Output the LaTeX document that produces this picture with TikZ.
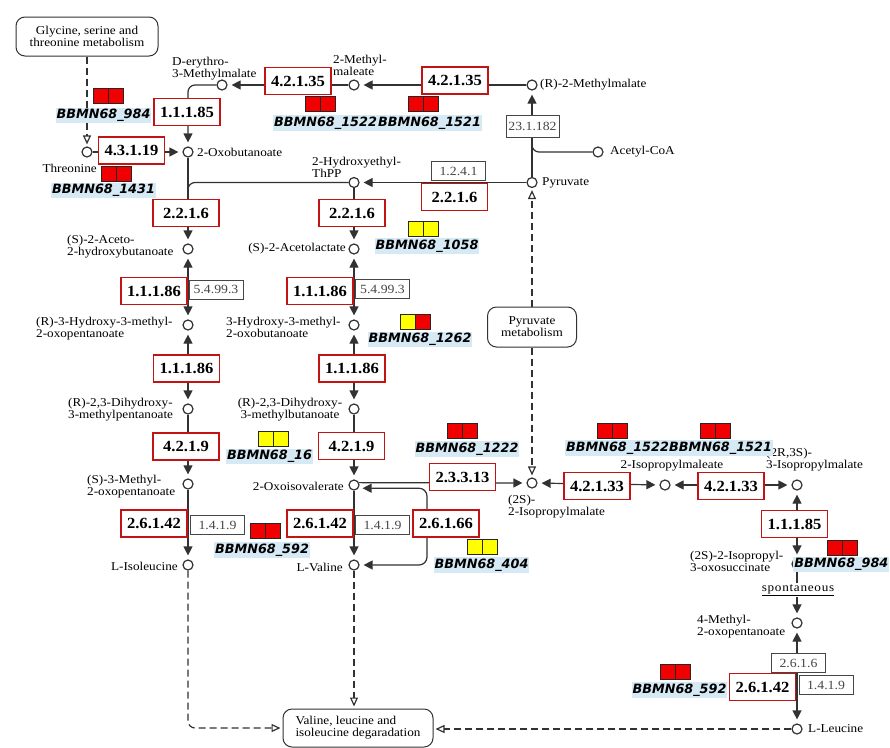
\documentclass[tikz,border=0pt]{standalone}
\usepackage{fontspec}
\setmainfont{Liberation Serif}
\newfontfamily\cpdf[FakeStretch=1.1]{Liberation Serif}
\newfontfamily\spf[FakeStretch=1.1,LetterSpace=6]{Liberation Serif}
\newfontfamily\ecff[FakeStretch=1.07]{Liberation Serif}
\newfontfamily\genf{DejaVu Sans}
\usetikzlibrary{arrows.meta,calc}
\definecolor{lc}{RGB}{50,50,50}
\definecolor{ecred}{RGB}{195,20,20}
\definecolor{sqred}{RGB}{240,0,0}
\definecolor{sqyel}{RGB}{255,255,0}
\definecolor{genebg}{RGB}{214,234,245}
\definecolor{grayec}{RGB}{70,70,70}
\pgfdeclarelayer{bg}
\pgfsetlayers{bg,main}
\newcommand\sqpair[5]{\node[#4] (#1a) at ({#2-7.5},{-#3}) {};\node[#5] (#1b) at ({#2+7.5},{-#3}) {};}
\tikzset{
  cpd/.style={circle,draw=lc,fill=white,line width=1.2pt,minimum size=10pt,inner sep=0pt},
  ecbox/.style={draw=ecred,line width=1.8pt,fill=white,minimum width=66pt,minimum height=27pt,inner sep=0pt,font=\ecff\fontsize{15.5}{15.5}\selectfont\bfseries},
  ecgray/.style={draw=grayec,line width=1pt,fill=white,minimum width=54pt,minimum height=19pt,inner sep=0pt,text=grayec,font=\cpdf\fontsize{12.5}{12.5}\selectfont},
  lbl/.style={inner sep=0pt,font=\cpdf\fontsize{12}{12}\selectfont,text=black},
  lbll/.style={lbl,align=left,anchor=north west},
  gene/.style={fill=genebg,inner xsep=1pt,inner ysep=1.5pt,font=\genf\fontsize{12.8}{12.8}\selectfont\bfseries\itshape},
  sqr/.style={draw=black!85,line width=1pt,fill=sqred,minimum size=15pt,inner sep=0pt},
  sqy/.style={sqr,fill=sqyel},
  mapbox/.style={draw=lc,line width=1pt,rounded corners=9pt,fill=white,align=center,inner sep=0pt,font=\cpdf\fontsize{12}{12}\selectfont},
  ln/.style={draw=lc,line width=1.2pt},
  arr/.style={ln,-{Triangle[length=9pt,width=9pt]},shorten >=4pt},
  arrb/.style={ln,{Triangle[length=9pt,width=9pt]}-{Triangle[length=9pt,width=9pt]},shorten >=4pt,shorten <=4pt},
  darr/.style={ln,dash pattern=on 7pt off 4pt,-{Triangle[open,length=9pt,width=8pt,fill=white]},shorten >=2pt},
}
\begin{document}
\begin{tikzpicture}[x=1pt,y=1pt]
\useasboundingbox (0,0) rectangle (890,-747);
% ---------- compounds
\node[cpd] (c_dery) at (222,-85) {};
\node[cpd] (c_mmal) at (354,-85) {};
\node[cpd] (c_rmm) at (532,-85) {};
\node[cpd] (c_acoa) at (598,-152) {};
\node[cpd] (c_pyr) at (532,-182.5) {};
\node[cpd] (c_hthpp) at (354,-182.5) {};
\node[cpd] (c_oxob) at (188,-152) {};
\node[cpd] (c_thr) at (87,-152) {};
\node[cpd] (c_ahb) at (188,-249) {};
\node[cpd] (c_al) at (354,-249) {};
\node[cpd] (c_hmo) at (188,-325) {};
\node[cpd] (c_hmob) at (354,-325) {};
\node[cpd] (c_dhmp) at (188,-409) {};
\node[cpd] (c_dhmb) at (354,-409) {};
\node[cpd] (c_mop) at (188,-484) {};
\node[cpd] (c_oiv) at (354,-485) {};
\node[cpd] (c_ile) at (188,-565) {};
\node[cpd] (c_val) at (354,-565) {};
\node[cpd] (c_ipm) at (532,-483) {};
\node[cpd] (c_ipmal) at (665,-485) {};
\node[cpd] (c_ripm) at (797,-485) {};
\node[cpd] (c_ipos) at (797,-564) {};
\node[cpd] (c_mop4) at (797,-623) {};
\node[cpd] (c_leu) at (797,-729) {};
% ---------- maps
\node[mapbox,minimum width=142pt,minimum height=39pt] (glymap) at (87,-36.5) {Glycine, serine and\\threonine metabolism};
\node[mapbox,minimum width=89pt,minimum height=40pt] (pyrmap) at (532,-327) {Pyruvate\\metabolism};
\node[mapbox,minimum width=150pt,minimum height=38pt,align=left] (valmap) at (358,-728) {Valine, leucine and\\isoleucine degaradation};
% ---------- enzymes
\node[ecbox] (e1) at (187,-112) {1.1.1.85};
\node[ecbox] (e2) at (131.5,-150.5) {4.3.1.19};
\node[ecbox] (e3) at (298,-81) {4.2.1.35};
\node[ecbox] (e4) at (455,-80.5) {4.2.1.35};
\node[ecgray,minimum width=53pt,minimum height=22pt] (e5) at (532.5,-126) {23.1.182};
\node[ecgray] (e6) at (458.5,-171) {1.2.4.1};
\node[ecbox] (e7) at (454.5,-197) {2.2.1.6};
\node[ecbox] (e8) at (186,-213) {2.2.1.6};
\node[ecbox] (e9) at (352,-213) {2.2.1.6};
\node[ecbox] (e10) at (154,-291) {1.1.1.86};
\node[ecgray] (e11) at (216,-289.5) {5.4.99.3};
\node[ecbox] (e12) at (320,-291) {1.1.1.86};
\node[ecgray] (e13) at (382.5,-289) {5.4.99.3};
\node[ecbox] (e14) at (186.5,-368.5) {1.1.1.86};
\node[ecbox] (e15) at (352,-368.5) {1.1.1.86};
\node[ecbox] (e16) at (186,-446.5) {4.2.1.9};
\node[ecbox] (e17) at (351.5,-446) {4.2.1.9};
\node[ecbox] (e18) at (462.5,-477) {2.3.3.13};
\node[ecbox] (e19) at (154,-523.5) {2.6.1.42};
\node[ecgray] (e20) at (217.5,-525) {1.4.1.9};
\node[ecbox] (e21) at (320,-523.5) {2.6.1.42};
\node[ecgray] (e22) at (382.5,-525) {1.4.1.9};
\node[ecbox] (e23) at (446,-523.5) {2.6.1.66};
\node[ecbox] (e24) at (597,-486) {4.2.1.33};
\node[ecbox] (e25) at (731,-486) {4.2.1.33};
\node[ecbox] (e26) at (794.5,-524) {1.1.1.85};
\node[ecgray] (e27) at (798.5,-663) {2.6.1.6};
\node[ecbox] (e28) at (762.5,-687) {2.6.1.42};
\node[ecgray] (e29) at (826,-685) {1.4.1.9};
% ---------- compound labels
\node[lbll] (lb_dery) at (172,-57) {D-erythro-\\3-Methylmalate};
\node[lbll] (lb_mmal) at (333,-55) {2-Methyl-\\maleate};
\node[lbl,anchor=west] (lb_rmm) at (540,-85) {(R)-2-Methylmalate};
\node[lbl,anchor=west] (lb_acoa) at (610,-152) {Acetyl-CoA};
\node[lbll] (lb_hthpp) at (312,-157) {2-Hydroxyethyl-\\ThPP};
\node[lbl,anchor=west] (lb_pyr) at (542,-183) {Pyruvate};
\node[lbl,anchor=west] (lb_oxob) at (197,-152) {2-Oxobutanoate};
\node[lbl,anchor=east] (lb_thr) at (97,-168) {Threonine};
\node[lbll] (lb_ahb) at (67,-235) {(S)-2-Aceto-\\2-hydroxybutanoate};
\node[lbl,anchor=east] (lb_al) at (346,-249) {(S)-2-Acetolactate};
\node[lbll] (lb_hmo) at (36,-317) {(R)-3-Hydroxy-3-methyl-\\2-oxopentanoate};
\node[lbll] (lb_hmob) at (226,-317) {3-Hydroxy-3-methyl-\\2-oxobutanoate};
\node[lbll] (lb_dhmp) at (68,-398) {(R)-2,3-Dihydroxy-\\3-methylpentanoate};
\node[lbl,align=center,anchor=north] (lb_dhmb) at (290,-398) {(R)-2,3-Dihydroxy-\\3-methylbutanoate};
\node[lbll] (lb_mop) at (87,-475) {(S)-3-Methyl-\\2-oxopentanoate};
\node[lbl,anchor=east] (lb_oiv) at (344,-486) {2-Oxoisovalerate};
\node[lbl,anchor=east] (lb_ile) at (178,-566) {L-Isoleucine};
\node[lbl,anchor=east] (lb_val) at (343,-567) {L-Valine};
\node[lbll] (lb_ipm) at (508,-495) {(2S)-\\2-Isopropylmalate};
\node[lbl] (lb_ipmal) at (672,-466) {2-Isopropylmaleate};
\node[lbll] (lb_ripm) at (766,-448) {(2R,3S)-\\3-Isopropylmalate};
\node[lbll] (lb_ipos) at (690,-551) {(2S)-2-Isopropyl-\\3-oxosuccinate};
\node[lbl,fill=white,inner sep=1pt,font=\spf\fontsize{12}{12}\selectfont] (lb_spont) at (798,-590) {\underline{spontaneous}};
\node[lbll] (lb_mop4) at (697,-615) {4-Methyl-\\2-oxopentanoate};
\node[lbl,anchor=west] (lb_leu) at (808,-729) {L-Leucine};
% ---------- connectors
\begin{pgfonlayer}{bg}
\fill[white] (0,0) rectangle (890,-747);
\coordinate (j1) at (188,-205);
\coordinate (j2) at (532,-140);
\coordinate (lp) at (427,-565);
\draw[arr] (c_rmm) -- (c_mmal);
\draw[arr] (c_mmal) -- (c_dery);
\draw[arr,rounded corners=7pt] (c_dery.west) -| (c_oxob.north);
\draw[arr] (c_thr) -- (c_oxob);
\draw[darr] (glymap) -- (c_thr);
\draw[arr] (c_pyr) -- (c_rmm);
\draw[ln,rounded corners=7pt] (c_acoa.west) -| (j2);
\draw[arr] (c_pyr) -- (c_hthpp);
\draw[ln,rounded corners=7pt] (c_hthpp.west) -| (j1);
\draw[darr] (pyrmap) -- (c_pyr);
\draw[darr] (pyrmap) -- (c_ipm);
\draw[arr] (c_oxob) -- (c_ahb);
\draw[arr] (c_hthpp) -- (c_al);
\draw[arrb] (c_ahb) -- (c_hmo);
\draw[arrb] (c_al) -- (c_hmob);
\draw[arrb] (c_hmo) -- (c_dhmp);
\draw[arrb] (c_hmob) -- (c_dhmb);
\draw[arr] (c_dhmp) -- (c_mop);
\draw[arr] (c_dhmb) -- (c_oiv);
\draw[arr] (c_mop) -- (c_ile);
\draw[arr] (c_oiv) -- (c_val);
\draw[arrb,rounded corners=8pt] (c_oiv.-35) -| (lp) -- (c_val.east);
\draw[arr] (c_oiv.25) -- (c_ipm);
\draw[arrb] (c_ipm) -- (c_ipmal);
\draw[arrb] (c_ipmal) -- (c_ripm);
\draw[arrb] (c_ripm) -- (c_ipos);
\draw[arr] (c_ipos) -- (c_mop4);
\draw[arrb] (c_mop4) -- (c_leu);
\draw[darr,rounded corners=7pt] (c_ile.south) |- (valmap.west);
\draw[darr] (c_val) -- (c_val |- valmap.north);
\draw[darr] (c_leu) -- (c_leu -| valmap.east);
\end{pgfonlayer}
% ---------- genes
\sqpair{s1}{108}{95.5}{sqr}{sqr}
\node[gene] (g1) at (103.5,-115.5) {BBMN68\_984};
\sqpair{s2}{116}{174}{sqr}{sqr}
\node[gene] (g2) at (103.5,-190.5) {BBMN68\_1431};
\sqpair{s3}{320}{104}{sqr}{sqr}
\node[gene] (g3) at (325.5,-123) {BBMN68\_1522};
\sqpair{s4}{423}{104}{sqr}{sqr}
\node[gene] (g4) at (429.5,-123) {BBMN68\_1521};
\sqpair{s5}{423}{228.5}{sqy}{sqy}
\node[gene] (g5) at (427,-246) {BBMN68\_1058};
\sqpair{s6}{415.5}{322}{sqy}{sqr}
\node[gene] (g6) at (420,-339.5) {BBMN68\_1262};
\sqpair{s7}{273}{439}{sqy}{sqy}
\node[gene] (g7) at (269.5,-456.5) {BBMN68\_16};
\sqpair{s8}{462.5}{430.5}{sqr}{sqr}
\node[gene] (g8) at (467,-449) {BBMN68\_1222};
\sqpair{s9}{612.5}{430.5}{sqr}{sqr}
\node[gene] (g9) at (617.5,-448) {BBMN68\_1522};
\sqpair{s10}{715}{430.5}{sqr}{sqr}
\node[gene] (g10) at (720.5,-448) {BBMN68\_1521};
\sqpair{s11}{265.5}{531}{sqr}{sqr}
\node[gene] (g11) at (262,-550) {BBMN68\_592};
\sqpair{s12}{482}{547}{sqy}{sqy}
\node[gene] (g12) at (481.5,-565) {BBMN68\_404};
\sqpair{s13}{842}{548}{sqr}{sqr}
\node[gene,anchor=east] (g13) at (889.5,-564.5) {BBMN68\_984};
\sqpair{s14}{675.5}{672}{sqr}{sqr}
\node[gene] (g14) at (679.5,-690) {BBMN68\_592};
\end{tikzpicture}
\end{document}
